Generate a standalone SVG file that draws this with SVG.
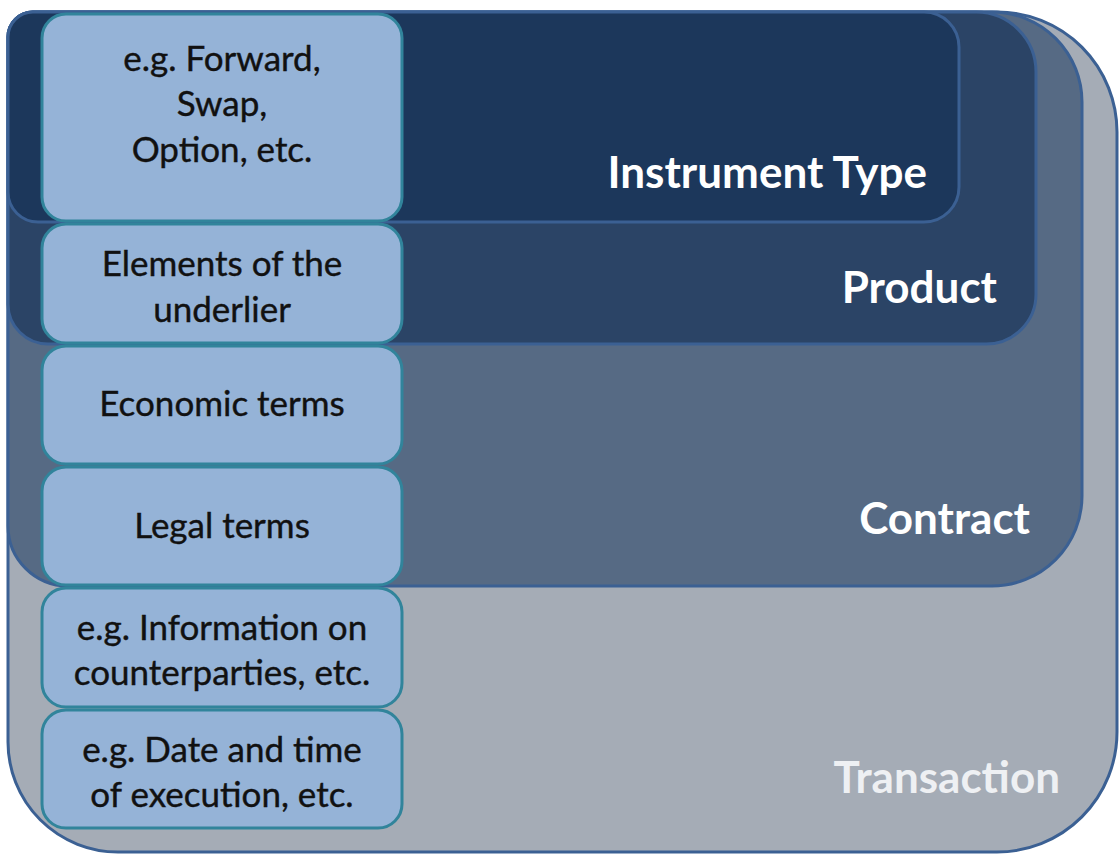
<svg xmlns="http://www.w3.org/2000/svg" width="1119" height="854" viewBox="0 0 1119 854">
<style>
.layer{stroke:#3b6093;stroke-width:3}
.box{fill:#95b3d7;stroke:#31849b;stroke-width:3}
.bt{font-family:Lato,"Liberation Sans",sans-serif;font-size:35px;fill:#111;stroke:#111;stroke-width:0.4;text-anchor:middle}
.lbl{font-family:Lato,"Liberation Sans",sans-serif;font-size:44px;font-weight:bold;fill:#fff;text-anchor:end}
</style>
<rect width="1119" height="854" fill="#fff"/>
<g id="transaction">
<path class="layer" fill="#a5acb6" d="M 33 12 H 997 A 120 120 0 0 1 1117 132 V 732 A 120 120 0 0 1 997 852 H 118 A 110 110 0 0 1 8 742 V 37 A 25 25 0 0 1 33 12 Z"/>
<text class="lbl" x="1060" y="793" style="fill:#eef0f3">Transaction</text>
</g>
<g id="contract">
<path class="layer" fill="#566a84" d="M 33 12 H 992 A 90 90 0 0 1 1082 102 V 496 A 90 90 0 0 1 992 586 H 68 A 60 60 0 0 1 8 526 V 37 A 25 25 0 0 1 33 12 Z"/>
<text class="lbl" x="1030" y="534">Contract</text>
</g>
<g id="product">
<path class="layer" fill="#2b4466" d="M 33 12 H 976 A 60 60 0 0 1 1036 72 V 294 A 50 50 0 0 1 986 344 H 48 A 40 40 0 0 1 8 304 V 37 A 25 25 0 0 1 33 12 Z"/>
<text class="lbl" x="997" y="303">Product</text>
</g>
<g id="instrument-type">
<path class="layer" fill="#1c375b" d="M 33 12 H 924 A 35 35 0 0 1 959 47 V 187 A 35 35 0 0 1 924 222 H 38 A 30 30 0 0 1 8 192 V 37 A 25 25 0 0 1 33 12 Z"/>
<text class="lbl" x="927" y="188">Instrument Type</text>
</g>
<g id="connectors"></g>
<g id="box-instrument">
<rect class="box" x="42" y="14" width="360" height="207" rx="24"/>
<text class="bt" x="222" y="71">e.g. Forward,</text>
<text class="bt" x="222" y="116">Swap,</text>
<text class="bt" x="222" y="162">Option, etc.</text>
</g>
<g id="box-underlier">
<rect class="box" x="42" y="224" width="360" height="119" rx="24"/>
<text class="bt" x="222" y="276">Elements of the</text>
<text class="bt" x="222" y="322">underlier</text>
</g>
<g id="box-economic">
<rect class="box" x="42" y="346" width="360" height="118" rx="24"/>
<text class="bt" x="222" y="416">Economic terms</text>
</g>
<g id="box-legal">
<rect class="box" x="42" y="467" width="360" height="118" rx="24"/>
<text class="bt" x="222" y="538">Legal terms</text>
</g>
<g id="box-counterparties">
<rect class="box" x="42" y="588" width="360" height="119" rx="24"/>
<text class="bt" x="222" y="640">e.g. Information on</text>
<text class="bt" x="222" y="685">counterparties, etc.</text>
</g>
<g id="box-execution">
<rect class="box" x="42" y="710" width="360" height="118" rx="24"/>
<text class="bt" x="222" y="762">e.g. Date and time</text>
<text class="bt" x="222" y="807">of execution, etc.</text>
</g>
</svg>
